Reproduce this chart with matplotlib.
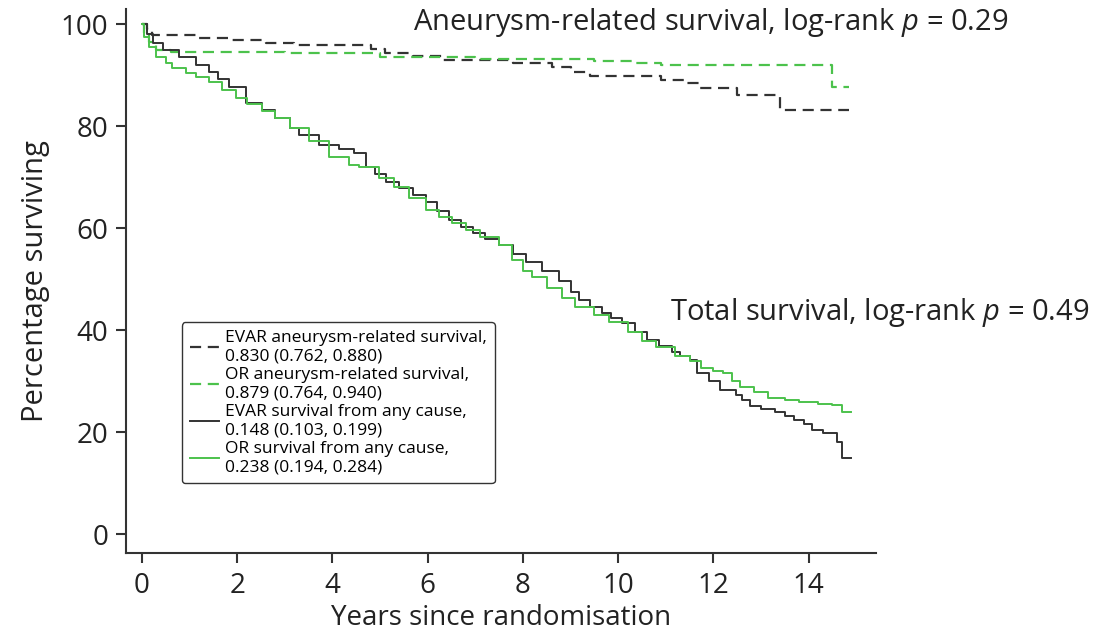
import matplotlib
matplotlib.use("Agg")
import matplotlib.pyplot as plt

plt.rcParams['font.family'] = ['Open Sans', 'DejaVu Sans']
plt.rcParams['mathtext.fontset'] = 'custom'
plt.rcParams['mathtext.rm'] = 'Open Sans'
plt.rcParams['mathtext.it'] = 'Open Sans:italic'

# aneurysm-related survival (step points)
evar_an_t = [0, 0.1, 0.2, 1.2, 1.9, 2.6, 3.2, 4.8, 5.1, 5.7, 6.3, 7.8, 8.6, 9.0, 9.4,
             10.9, 11.4, 11.7, 12.5, 13.4, 14.85]
evar_an_v = [100, 99, 97.8, 97.3, 96.8, 96.3, 95.8, 95.2, 94.4, 93.7, 92.9, 92.4, 91.6,
             90.6, 89.8, 89.1, 88.4, 87.4, 86.1, 83.1, 83.1]
or_an_t = [0, 0.05, 0.15, 0.3, 0.6, 3.0, 5.0, 7.0, 9.5, 10.3, 10.9, 14.5, 14.85]
or_an_v = [100, 98, 96.5, 95, 94.6, 94.3, 93.6, 93.2, 92.8, 92.4, 92.0, 87.7, 87.7]

# survival from any cause
evar_all_t = [0, 0.1, 0.23, 0.44, 0.78, 1.13, 1.41, 1.6, 1.83, 2.19, 2.53, 2.8, 3.1, 3.3,
              3.72, 4.14, 4.45, 4.7, 4.9, 5.13, 5.4, 5.7, 5.97, 6.2, 6.45, 6.7, 6.95, 7.2,
              7.5, 7.8, 8.07, 8.4, 8.76, 9.0, 9.18, 9.4, 9.66, 9.85, 10.08, 10.35, 10.6,
              10.85, 11.13, 11.3, 11.5, 11.66, 11.9, 12.13, 12.48, 12.6, 12.76, 13.0, 13.3,
              13.5, 13.7, 13.9, 14.08, 14.3, 14.6, 14.7, 14.88]
evar_all_v = [100, 98.0, 96.3, 94.9, 93.6, 92.0, 90.6, 89.2, 87.7, 84.5, 83.1, 81.5, 79.6,
              78.2, 76.3, 75.5, 74.7, 72.0, 70.5, 69.0, 67.8, 66.5, 65.1, 63.3, 61.6, 60.3,
              59.0, 57.9, 56.7, 55.0, 53.3, 51.5, 49.6, 47.5, 45.9, 44.6, 43.3, 42.3, 41.3,
              39.6, 38.0, 36.9, 35.7, 35.0, 34.1, 31.6, 30.0, 28.2, 27.3, 26.2, 25.1, 24.5,
              23.9, 23.2, 22.4, 21.5, 20.4, 19.9, 18.0, 14.9, 14.9]
or_all_t = [0, 0.05, 0.15, 0.29, 0.5, 0.63, 0.92, 1.13, 1.41, 1.68, 1.97, 2.2, 2.53, 2.8,
            3.1, 3.5, 3.93, 4.35, 4.56, 4.98, 5.3, 5.6, 5.97, 6.24, 6.5, 6.8, 7.1, 7.5,
            7.77, 8.0, 8.2, 8.5, 8.83, 9.1, 9.5, 9.8, 10.2, 10.5, 10.8, 11.2, 11.5, 11.74,
            12.0, 12.2, 12.4, 12.55, 12.85, 13.15, 13.5, 13.8, 14.2, 14.5, 14.7, 14.88]
or_all_v = [100, 97.5, 95.5, 93.6, 92.3, 91.4, 90.4, 89.7, 88.7, 87.1, 85.5, 84.3, 83.0,
            81.5, 79.6, 77.0, 74.0, 72.4, 72.0, 69.8, 68.0, 65.8, 63.5, 62.2, 61.0, 59.6,
            58.2, 56.7, 53.7, 51.5, 50.4, 48.2, 46.2, 44.6, 43.0, 41.5, 39.6, 37.8, 36.6,
            35.0, 34.0, 32.5, 32.0, 31.5, 30.0, 28.8, 27.8, 26.7, 26.2, 25.9, 25.5, 25.3,
            23.9, 23.9]

labels = ['EVAR aneurysm-related survival,\n0.830 (0.762, 0.880)',
          'OR aneurysm-related survival,\n0.879 (0.764, 0.940)',
          'EVAR survival from any cause,\n0.148 (0.103, 0.199)',
          'OR survival from any cause,\n0.238 (0.194, 0.284)']

black = '#333333'
green = '#4cc24c'
txt = '#222222'

fig = plt.figure(figsize=(10.94, 6.36), dpi=100)
ax = fig.add_axes([0.115, 0.1305, 0.686, 0.855])

ax.plot(evar_an_t, evar_an_v, drawstyle='steps-post', color=black, lw=1.6,
        dashes=(5, 3), label=labels[0])
ax.plot(or_an_t, or_an_v, drawstyle='steps-post', color=green, lw=1.6,
        dashes=(5, 3), label=labels[1])
ax.plot(evar_all_t, evar_all_v, drawstyle='steps-post', color=black, lw=1.4,
        label=labels[2])
ax.plot(or_all_t, or_all_v, drawstyle='steps-post', color=green, lw=1.4,
        label=labels[3])

ax.set_xlim(-0.34, 15.42)
ax.set_ylim(-3.7, 102.9)
ax.set_xticks(range(0, 15, 2))
ax.set_yticks(range(0, 101, 20))
for s in ['top', 'right']:
    ax.spines[s].set_visible(False)
for s in ['left', 'bottom']:
    ax.spines[s].set_linewidth(1.5)
    ax.spines[s].set_color(black)
ax.tick_params(axis='both', labelsize=20, length=7.5, width=1.5, color=black,
               labelcolor=txt)
ax.tick_params(axis='x', pad=6)
ax.tick_params(axis='y', pad=5)
ax.set_xlabel('Years since randomisation', fontsize=20, color=txt, labelpad=3)
ax.set_ylabel('Percentage surviving', fontsize=21, color=txt, labelpad=8)

leg = ax.legend(loc='upper left', bbox_to_anchor=(0.0747, 0.4246), fontsize=12.5,
                frameon=True, fancybox=True, edgecolor=black, handlelength=1.7,
                labelspacing=0.15, borderpad=0.45, handletextpad=0.35,
                borderaxespad=0)
leg.get_frame().set_linewidth(1.0)
leg.get_frame().set_alpha(1)

fig.text(0.3775, 0.965, 'Aneurysm-related survival, log-rank $p$ = 0.29',
         fontsize=21, color=txt, va='center', ha='left')
fig.text(0.612, 0.509, 'Total survival, log-rank $p$ = 0.49',
         fontsize=21, color=txt, va='center', ha='left')

fig.savefig('out.png', dpi=100)
